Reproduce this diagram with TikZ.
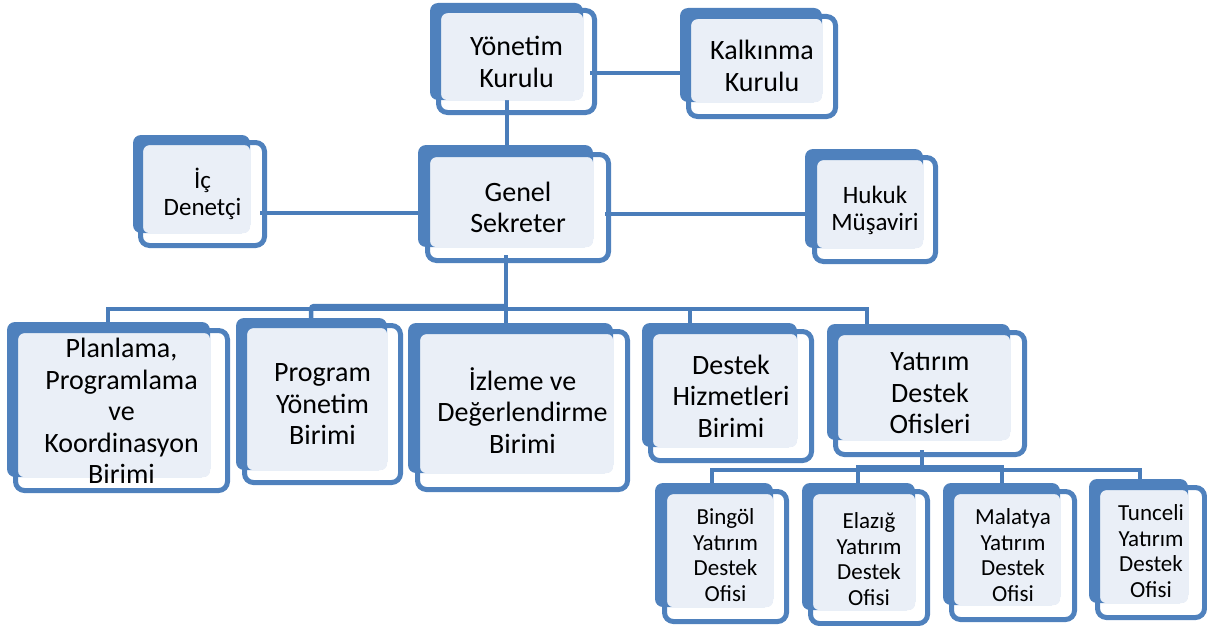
\documentclass[tikz,border=0pt]{standalone}
\usepackage{fontspec}
\setmainfont{Carlito}
\definecolor{boxblue}{RGB}{79,129,189}
\definecolor{boxlight}{RGB}{234,239,247}
\definecolor{linkblue}{RGB}{74,125,186}
\begin{document}
\begin{tikzpicture}[x=1pt,y=-1pt,
  big/.style={align=center,inner sep=0pt,font=\fontsize{28}{31.5}\selectfont},
  mid/.style={align=center,inner sep=0pt,font=\fontsize{25}{27}\selectfont},
  small/.style={align=center,inner sep=0pt,font=\fontsize{23}{25.7}\selectfont},
  link/.style={draw=linkblue,line width=4.5pt},
  bus/.style={draw=linkblue,line width=3.5pt}]
\useasboundingbox (0,0) rectangle (1207,626);
\def\obox(#1,#2,#3,#4)(#5,#6,#7,#8){%
 \fill[boxblue, rounded corners=8pt] (#1,#2) rectangle (#3,#4);
 \fill[boxlight, rounded corners=6pt] ({#5+5},{#6+5}) rectangle (#3,#4);
 \draw[boxblue, line width=5pt, rounded corners=9pt] ({#5+2.5},{#6+2.5}) rectangle ({#7-2.5},{#8-2.5});
}
% connectors (behind boxes)
\coordinate (top1) at (507,100);
\coordinate (gsTop) at (507,160);
\draw[link] (top1) -- (gsTop);
\draw[link] (590,73) -- (690,73);
\draw[link] (260,213) -- (425,213);
\draw[link] (605,214) -- (815,214);
\coordinate (gsBot) at (506,255);
\coordinate (busJ) at (506,309);
\draw[link] (gsBot) -- (busJ);
\draw[bus] (108,325) -- (108,309) -- (867,309) -- (867,325);
\draw[link,rounded corners=3pt] (311,325) -- (311,306) -- (506,306);
\draw[bus] (506,309) -- (506,325);
\draw[bus] (690,309) -- (690,325);
\coordinate (ydBot) at (922,450);
\coordinate (ydJ) at (922,468);
\draw[link] (ydBot) -- (ydJ);
\draw[bus] (712,485) -- (712,470) -- (1140,470) -- (1140,485);
\draw[link] (858,485) -- (858,467) -- (1002,467) -- (1002,485);
% boxes
\obox(430,3,583,100)(436,8,597,115)
\obox(680,8,822,102)(686,14,838,119)
\obox(418,145,593,247)(425,152,611,263)
\obox(133,135,250,233)(138,140,267,248)
\obox(805,149,923,248)(812,155,938,264)
\obox(7,322,210,477)(13,328,230,493)
\obox(236,318,387,470)(242,323,403,485)
\obox(408,323,613,473)(415,329,630,492)
\obox(642,323,797,447)(648,329,814,463)
\obox(827,324,1010,440)(833,330,1027,457)
\obox(655,483,773,607)(662,489,789,624)
\obox(802,483,915,610)(808,489,930,626)
\obox(943,483,1060,605)(949,489,1077,622)
\obox(1089,479,1188,603)(1095,485,1207,620)
% texts
\node[big] (yk) at (516.5,62) {Yönetim\\Kurulu};
\node[big] (kk) at (762,66) {Kalkınma\\Kurulu};
\node[big] (gs) at (518,207.5) {Genel\\Sekreter};
\node[mid] (id) at (202.5,194) {İç\\Denetçi};
\node[mid] (hm) at (875,210) {Hukuk\\Müşaviri};
\node[big] (pp) at (121.5,411) {Planlama,\\Programlama\\ve\\Koordinasyon\\Birimi};
\node[big] (py) at (322.5,404.5) {Program\\Yönetim\\Birimi};
\node[big] (iz) at (522.5,410.5) {İzleme ve\\Değerlendirme\\Birimi};
\node[big] (dh) at (731,396) {Destek\\Hizmetleri\\Birimi};
\node[big] (yd) at (930,393.5) {Yatırım\\Destek\\Ofisleri};
\node[small] (bi) at (725.5,555) {Bingöl\\Yatırım\\Destek\\Ofisi};
\node[small] (el) at (869,559) {Elazığ\\Yatırım\\Destek\\Ofisi};
\node[small] (ma) at (1013,555) {Malatya\\Yatırım\\Destek\\Ofisi};
\node[small] (tu) at (1151,551) {Tunceli\\Yatırım\\Destek\\Ofisi};
\end{tikzpicture}
\end{document}
